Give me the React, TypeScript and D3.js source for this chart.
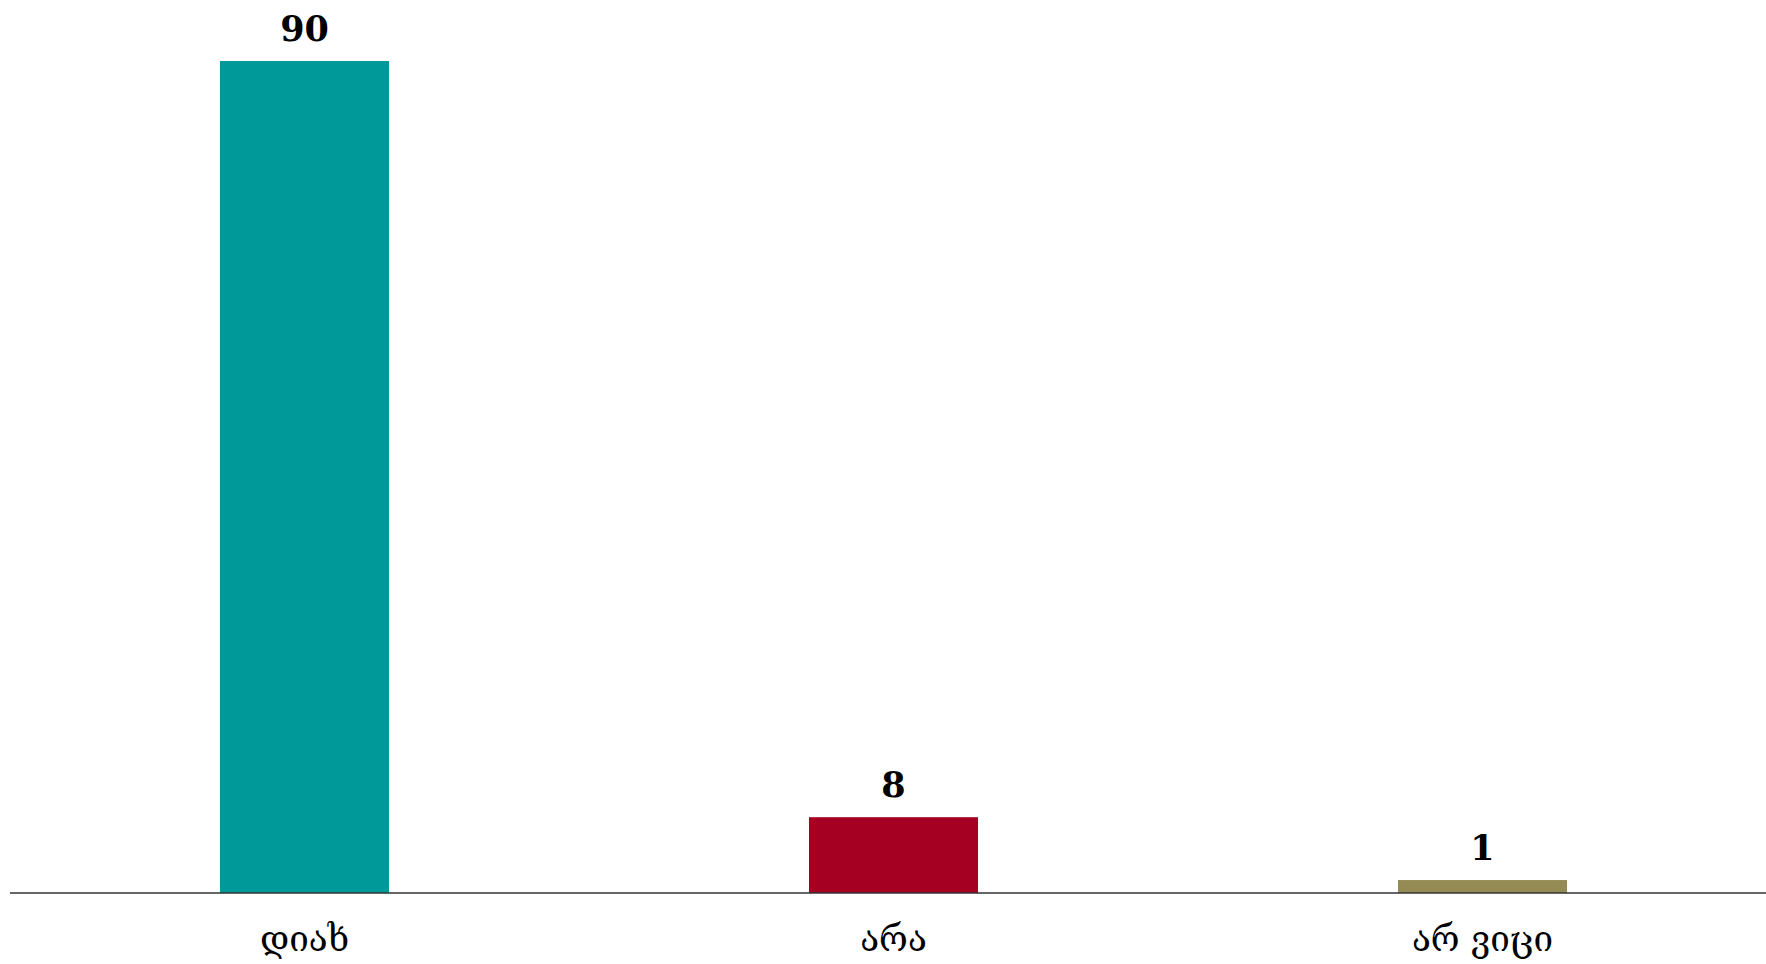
import React from "react";
import * as d3 from "d3";

const categories = ["დიახ", "არა", "არ ვიცი"];
const values = [90, 8.2, 1.4];
const valueLabels = ["90", "8", "1"];
const colors = ["#009999", "#A50021", "#948A54"];

const W = 1766;
const H = 964;

export default function App() {
  const x = d3
    .scaleBand<string>()
    .domain(categories)
    .range([10, 1777])
    .paddingInner(0.713)
    .paddingOuter(0.3565);
  const y = d3.scaleLinear().domain([0, 90]).range([893, 61]);

  return (
    <svg
      width={W}
      height={H}
      style={{ position: "absolute", left: 0, top: 0, background: "#fff" }}
    >
      {categories.map((c, i) => (
        <g key={c}>
          <rect
            x={x(c)}
            y={y(values[i])}
            width={x.bandwidth()}
            height={y(0) - y(values[i])}
            fill={colors[i]}
          />
          <text
            x={(x(c) as number) + x.bandwidth() / 2}
            y={y(values[i]) - 20}
            textAnchor="middle"
            fontFamily="DejaVu Serif"
            fontWeight="bold"
            fontSize={35}
            fill="#000"
          >
            {valueLabels[i]}
          </text>
          <text
            x={(x(c) as number) + x.bandwidth() / 2}
            y={951}
            textAnchor="middle"
            fontFamily="DejaVu Serif"
            fontSize={35}
            fill="#000"
          >
            {c}
          </text>
        </g>
      ))}
      <line x1={10} x2={W} y1={893} y2={893} stroke="#333" strokeWidth={1.5} />
    </svg>
  );
}
